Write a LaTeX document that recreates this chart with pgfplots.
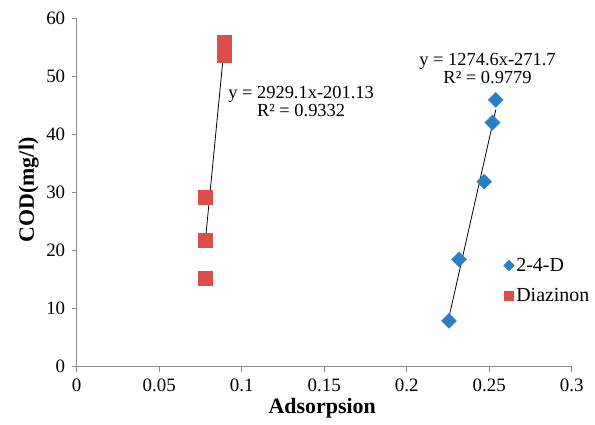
\documentclass[border=0pt]{standalone}
\usepackage{pgfplots}
\pgfplotsset{compat=1.18}
\usepackage{fontspec}
\setmainfont{Liberation Serif}
\definecolor{dzred}{HTML}{DC4E4B}
\definecolor{dblue}{HTML}{2A80C6}
\definecolor{axgray}{HTML}{8A8A8A}
\begin{document}
\begin{tikzpicture}
\useasboundingbox (0,0) rectangle (595bp,425bp);
\begin{axis}[
  at={(76.7bp,58.3bp)}, anchor=south west,
  scale only axis, width=495bp, height=348bp,
  xmin=0, xmax=0.3, ymin=0, ymax=60,
  xtick={0,0.05,...,0.3}, ytick={0,10,...,60},
  axis lines*=left,
  axis line style={axgray, line width=0.8bp},
  tick style={axgray, line width=0.8bp},
  tick align=outside, major tick length=5bp,
  clip=false,
  /pgf/number format/assume math mode=true,
  xticklabel style={/pgf/number format/fixed, /pgf/number format/precision=2, yshift=-4bp},
  yticklabel style={xshift=-3bp},
  ticklabel style={font=\fontsize{19}{21}\selectfont},
  xlabel={\textbf{Adsorpsion}},
  ylabel={\textbf{COD(mg/l)}},
  xlabel style={at={(axis description cs:0.496,-0.12)}, anchor=center, font=\fontsize{22}{24}\selectfont},
  ylabel style={at={(axis description cs:-0.097,0.508)}, anchor=center, font=\fontsize{22}{24}\selectfont},
  legend style={at={(0.862,0.318)}, anchor=north west, draw=none, fill=none,
    inner sep=0pt, row sep=11bp, font=\fontsize{20}{22}\selectfont,
    /tikz/every even column/.append style={column sep=2bp}},
  legend cell align=left,
]
\addplot[only marks, mark=square*, mark size=5.3bp, mark options={rotate=45}, color=dblue,
  legend image code/.code={\draw[mark=square*, mark size=3.8bp, mark options={rotate=45}, dblue] plot coordinates {(0.1cm,0cm)};}]
  coordinates {(0.2256,7.9) (0.2317,18.5) (0.2470,31.9) (0.2520,42.1) (0.2540,46.0)};
\addlegendentry{2-4-D}
\addplot[only marks, mark=square*, mark size=7bp, color=dzred,
  legend image code/.code={\draw[mark=square*, mark size=4.5bp, dzred] plot coordinates {(0.1cm,0cm)};}]
  coordinates {(0.0780,15.2) (0.0780,21.8) (0.0780,29.3) (0.0893,53.7) (0.0895,56.0)};
\addlegendentry{Diazinon}
\addplot[black, line width=0.8bp, forget plot] coordinates {(0.2256,8.5) (0.2540,44.3)};
\addplot[black, line width=0.8bp, forget plot] coordinates {(0.0780,21.8) (0.0894,55.2)};
\node[font=\fontsize{18.5}{20}\selectfont, align=center] at (axis cs:0.1360,45.8)
  {y = 2929.1x-201.13\\[-2bp]R² = 0.9332};
\node[font=\fontsize{18.5}{20}\selectfont, align=center] at (axis cs:0.2490,51.4)
  {y = 1274.6x-271.7\\[-2bp]R² = 0.9779};
\end{axis}
\end{tikzpicture}
\end{document}
